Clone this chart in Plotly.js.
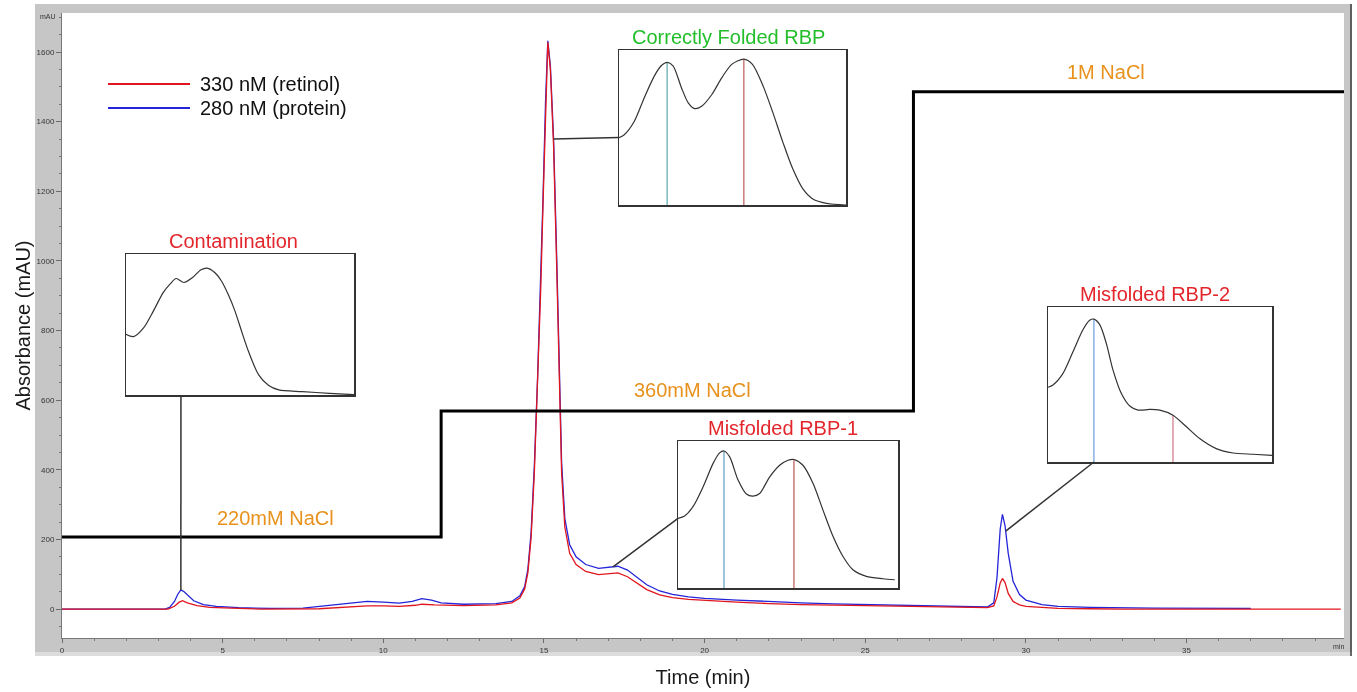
<!DOCTYPE html>
<html><head><meta charset="utf-8">
<script src="https://cdn.plot.ly/plotly-3.0.1.min.js"></script>
<style>
html,body{margin:0;padding:0;background:#fff}
#wrap{position:relative;width:1357px;height:692px;background:#fff}
#chart{position:absolute;left:0;top:0;width:1357px;height:692px}
.band{position:absolute;background:#c6c6c6;mix-blend-mode:multiply;pointer-events:none;z-index:5}
</style>
</head><body><div id="wrap"><div id="chart"></div>
<div class="band" style="left:35px;top:4px;width:1317px;height:9px"></div>
<div class="band" style="left:35px;top:13px;width:27px;height:625px"></div>
<div class="band" style="left:1344px;top:13px;width:8px;height:625px"></div>
<div class="band" style="left:35px;top:638px;width:1317px;height:14px"></div>
<div class="band" style="left:35px;top:652px;width:1317px;height:4px;background:#dcdcdc"></div>
<div class="band" style="left:1350px;top:4px;width:2px;height:652px;background:#7a7a7a"></div>
</div>
<script>
// ---------------- DATA ----------------
// 280 nm trace (protein)
const blueTime = [0, 3.2, 3.35, 3.5, 3.6, 3.7, 3.8, 3.95, 4.1, 4.4, 4.8, 5.5, 6.5, 7.5, 8.0, 8.5, 9.0, 9.5, 10.0, 10.5, 10.9, 11.2, 11.5, 11.8, 12.5, 13.0, 13.5, 14.0, 14.25, 14.4, 14.5, 14.6, 14.7, 14.8, 14.9, 14.97, 15.05, 15.12, 15.2, 15.3, 15.4, 15.47, 15.55, 15.65, 15.8, 16.0, 16.3, 16.7, 17.0, 17.3, 17.6, 17.9, 18.2, 18.6, 19.0, 19.5, 20, 21, 22, 23, 24, 25, 26, 27, 28, 28.8, 29.0, 29.1, 29.2, 29.27, 29.35, 29.45, 29.6, 29.8, 30.0, 30.5, 31, 32, 34, 37];
const blueValue = [0, 0, 5, 22, 42, 55, 50, 36, 24, 13, 8, 4, 2, 3, 8, 14, 19, 22, 20, 17, 22, 30, 26, 18, 14, 14, 16, 22, 38, 65, 115, 220, 410, 660, 940, 1180, 1460, 1632, 1560, 1350, 1000, 720, 420, 260, 185, 150, 128, 117, 120, 123, 112, 92, 70, 52, 42, 35, 31, 26, 21, 18, 15, 13, 11, 9, 7, 6, 18, 90, 230, 272, 240, 160, 80, 42, 26, 13, 8, 5, 3, 2];
// 330 nm trace (retinol)
const redTime = [0, 3.3, 3.5, 3.65, 3.75, 3.9, 4.2, 4.6, 5.5, 6.2, 8.0, 8.5, 9.0, 9.5, 10.0, 10.5, 11.0, 11.2, 11.6, 12.5, 13.5, 14.0, 14.25, 14.4, 14.5, 14.6, 14.7, 14.8, 14.9, 14.97, 15.05, 15.12, 15.2, 15.3, 15.4, 15.47, 15.55, 15.65, 15.8, 16.0, 16.3, 16.7, 17.0, 17.3, 17.6, 17.9, 18.2, 18.6, 19.0, 19.5, 20, 21, 22, 23, 25, 27, 28.8, 29.0, 29.1, 29.2, 29.27, 29.35, 29.45, 29.6, 29.8, 30.0, 30.5, 31, 32, 33, 39.8];
const redValue = [0, 0, 8, 20, 24, 18, 10, 5, 2, 0, 1, 4, 7, 9, 9, 8, 11, 14, 12, 10, 12, 18, 32, 58, 105, 205, 390, 630, 920, 1160, 1450, 1628, 1550, 1330, 970, 690, 390, 235, 160, 128, 108, 99, 102, 104, 93, 74, 56, 41, 33, 28, 25, 20, 16, 13, 10, 7, 4, 9, 35, 75, 88, 76, 45, 22, 12, 8, 4, 2, 1, 0, 0];
// NaCl step gradient
const saltTime = [0, 11.8, 26.5, 39.9];
const saltValue = [207, 569, 1486, 1486];
const saltLabels = ['220mM NaCl', '360mM NaCl', '1M NaCl'];
const seriesNames = ['330 nM (retinol)', '280 nM (protein)'];
// tick values
const xTickVals = [0, 5, 10, 15, 20, 25, 30, 35];
const yTickVals = [0, 200, 400, 600, 800, 1000, 1200, 1400, 1600];
// inset zoom profiles (normalised within each box)
const insetTitles = ['Contamination', 'Correctly Folded RBP', 'Misfolded RBP-1', 'Misfolded RBP-2'];
const contamU = [0, 0.033, 0.077, 0.12, 0.163, 0.193, 0.22, 0.254, 0.292, 0.329, 0.356, 0.389, 0.418, 0.448, 0.478, 0.507, 0.537, 0.582, 0.626, 0.67, 0.774, 0.893, 1.0];
const contamV = [0.43, 0.414, 0.476, 0.595, 0.726, 0.786, 0.826, 0.798, 0.833, 0.888, 0.9, 0.869, 0.81, 0.714, 0.595, 0.452, 0.31, 0.143, 0.067, 0.036, 0.024, 0.012, 0.002];
const foldedU = [0, 0.022, 0.067, 0.111, 0.156, 0.186, 0.212, 0.238, 0.275, 0.305, 0.334, 0.364, 0.409, 0.453, 0.498, 0.55, 0.587, 0.632, 0.676, 0.721, 0.765, 0.81, 0.854, 0.914, 1.0];
const foldedV = [0.435, 0.452, 0.539, 0.691, 0.833, 0.898, 0.92, 0.898, 0.757, 0.659, 0.622, 0.637, 0.713, 0.822, 0.909, 0.941, 0.909, 0.778, 0.604, 0.409, 0.235, 0.104, 0.039, 0.011, 0];
const misf1U = [0, 0.03, 0.068, 0.114, 0.159, 0.189, 0.209, 0.235, 0.273, 0.311, 0.341, 0.371, 0.417, 0.462, 0.5, 0.527, 0.568, 0.614, 0.659, 0.705, 0.75, 0.795, 0.856, 0.932, 0.985];
const misf1V = [0.474, 0.49, 0.553, 0.688, 0.846, 0.919, 0.932, 0.892, 0.734, 0.639, 0.625, 0.643, 0.756, 0.835, 0.869, 0.874, 0.835, 0.711, 0.53, 0.35, 0.214, 0.124, 0.079, 0.063, 0.056];
const misf2U = [0, 0.022, 0.067, 0.112, 0.156, 0.186, 0.205, 0.231, 0.26, 0.29, 0.327, 0.365, 0.402, 0.454, 0.499, 0.558, 0.618, 0.677, 0.751, 0.826, 0.915, 1.0];
const misf2V = [0.482, 0.497, 0.572, 0.713, 0.853, 0.914, 0.922, 0.886, 0.767, 0.594, 0.443, 0.361, 0.335, 0.339, 0.335, 0.302, 0.227, 0.151, 0.086, 0.058, 0.05, 0.043];
const foldedMarks = [0.212, 0.55];
const misf1Marks = [0.209, 0.527];
const misf2Marks = [0.205, 0.558];
// times at which callout lines leave the main trace
const calloutTimes = [3.7, 15.3, 17.15, 29.37];

// ---------------- LAYOUT HELPERS ----------------
const W = 1357, H = 692;
const M = {l: 62, r: 13, t: 13, b: 54};
const PW = W - M.l - M.r, PH = H - M.t - M.b;
const X_RANGE = [0, 39.9], Y_RANGE = [-83, 1712];
const px = x => (x - M.l) / PW;
const py = y => (H - M.b - y) / PH;
const dataX = f => X_RANGE[0] + f * (X_RANGE[1] - X_RANGE[0]);
const dataY = f => Y_RANGE[0] + f * (Y_RANGE[1] - Y_RANGE[0]);
function interp(xs, ys, x) {
  for (let i = 1; i < xs.length; i++) {
    if (x <= xs[i]) { const t = (x - xs[i-1]) / (xs[i] - xs[i-1]); return ys[i-1] + t * (ys[i] - ys[i-1]); }
  }
  return ys[ys.length - 1];
}
const FONT = 'Arial, "Liberation Sans", sans-serif';
const RED_T = '#e3262c', GREEN_T = '#22bf2a', ORANGE_T = '#e8911c';
function label(x, y, text, size, color, xanchor) {
  return {xref: 'paper', yref: 'paper', x: px(x), y: py(y), text: text, showarrow: false,
    xanchor: xanchor || 'center', yanchor: 'middle', font: {size: size, color: color, family: FONT}};
}

const insets = [
  {title: insetTitles[0], color: RED_T, box: [126, 354, 254, 395], tx: 233, u: contamU, v: contamV, marks: [], markColors: []},
  {title: insetTitles[1], color: GREEN_T, box: [619, 846, 50, 205], tx: 728, u: foldedU, v: foldedV, marks: foldedMarks, markColors: ['#5aa7b4', '#c4585a']},
  {title: insetTitles[2], color: RED_T, box: [678, 898, 441, 588], tx: 783, u: misf1U, v: misf1V, marks: misf1Marks, markColors: ['#5a9fc0', '#b8554f']},
  {title: insetTitles[3], color: RED_T, box: [1048, 1272, 307, 462], tx: 1155, u: misf2U, v: misf2V, marks: misf2Marks, markColors: ['#6b9be0', '#d07585']}
];

const traces = [
  {x: blueTime, y: blueValue, type: 'scatter', mode: 'lines', name: seriesNames[1], line: {color: '#2424d8', width: 1.3}, xaxis: 'x', yaxis: 'y'},
  {x: redTime, y: redValue, type: 'scatter', mode: 'lines', name: seriesNames[0], line: {color: '#e0161e', width: 1.3}, xaxis: 'x', yaxis: 'y'},
  {x: saltTime, y: saltValue, type: 'scatter', mode: 'lines', name: 'NaCl', line: {color: '#000', width: 3, shape: 'hv'}, xaxis: 'x', yaxis: 'y'}
];

const layout = {
  width: W, height: H, margin: M,
  paper_bgcolor: '#ffffff', plot_bgcolor: '#ffffff',
  showlegend: false,
  font: {family: FONT, color: '#222'},
  xaxis: {
    range: X_RANGE, domain: [0, 1], anchor: 'y',
    tickvals: xTickVals, ticks: 'outside', ticklen: 4, tickcolor: '#8a8a8a',
    tickfont: {size: 8, color: '#444'},
    minor: {dtick: 1, ticks: 'outside', ticklen: 2, tickcolor: '#9a9a9a'},
    showline: true, linecolor: '#9a9a9a', linewidth: 1,
    showgrid: false, zeroline: false, fixedrange: true,
    title: {text: 'Time (min)', font: {size: 20, color: '#1a1a1a', family: FONT}, standoff: 16}
  },
  yaxis: {
    range: Y_RANGE, domain: [0, 1], anchor: 'x',
    tickvals: yTickVals, ticks: 'outside', ticklen: 5, tickcolor: '#8a8a8a',
    tickfont: {size: 8, color: '#444'},
    minor: {dtick: 50, ticks: 'outside', ticklen: 2, tickcolor: '#9a9a9a'},
    showline: true, linecolor: '#9a9a9a', linewidth: 1,
    showgrid: false, zeroline: false, fixedrange: true,
    title: {text: 'Absorbance (mAU)', font: {size: 20, color: '#1a1a1a', family: FONT}, standoff: 0}
  },
  shapes: [
    {type: 'line', xref: 'paper', yref: 'paper', x0: px(108), x1: px(190), y0: py(84), y1: py(84), line: {color: '#e0161e', width: 2}},
    {type: 'line', xref: 'paper', yref: 'paper', x0: px(108), x1: px(190), y0: py(108), y1: py(108), line: {color: '#2424d8', width: 2}}
  ],
  annotations: [
    label(198, 84, seriesNames[0], 20, '#111', 'left'),
    label(198, 108, seriesNames[1], 20, '#111', 'left'),
    label(275, 518, saltLabels[0], 20, ORANGE_T),
    label(692, 390, saltLabels[1], 20, ORANGE_T),
    label(1106, 72, saltLabels[2], 20, ORANGE_T),
    label(48, 17, 'mAU', 7, '#444'),
    label(1338, 646, 'min', 7, '#444')
  ]
};

insets.forEach((ins, i) => {
  const n = i + 2;
  const [bx0, bx1, by0, by1] = ins.box;
  const xd = [px(bx0), px(bx1)], yd = [py(by1), py(by0)];
  const common = {range: [0, 1], showline: true, mirror: true, linecolor: '#333', linewidth: 1.5,
    showticklabels: false, ticks: '', showgrid: false, zeroline: false, fixedrange: true};
  layout['xaxis' + n] = Object.assign({domain: xd, anchor: 'y' + n}, common);
  layout['yaxis' + n] = Object.assign({domain: yd, anchor: 'x' + n}, common);
  ins.marks.forEach((m, k) => {
    traces.push({x: [m, m], y: [0, interp(ins.u, ins.v, m)], type: 'scatter', mode: 'lines',
      line: {color: ins.markColors[k], width: 1.2}, xaxis: 'x' + n, yaxis: 'y' + n});
  });
  traces.push({x: ins.u, y: ins.v, type: 'scatter', mode: 'lines', name: ins.title,
    line: {color: '#333', width: 1.2, shape: 'spline', smoothing: 0.8}, xaxis: 'x' + n, yaxis: 'y' + n});
  layout.annotations.push(label(ins.tx, by0 - 13, ins.title, 20, ins.color));
  ins.xd = xd; ins.yd = yd;
});

const ends = [
  [dataX(insets[0].xd[0] + (insets[0].xd[1]-insets[0].xd[0]) * 0.241), dataY(insets[0].yd[0])],
  [dataX(insets[1].xd[0]), dataY(insets[1].yd[0] + foldedV[0] * (insets[1].yd[1]-insets[1].yd[0]))],
  [dataX(insets[2].xd[0]), dataY(insets[2].yd[0] + misf1V[0] * (insets[2].yd[1]-insets[2].yd[0]))],
  [dataX(insets[3].xd[0] + misf2Marks[0] * (insets[3].xd[1]-insets[3].xd[0])), dataY(insets[3].yd[0])]
];
calloutTimes.forEach((t, i) => {
  layout.shapes.push({type: 'line', xref: 'x', yref: 'y', x0: t, y0: interp(blueTime, blueValue, t),
    x1: ends[i][0], y1: ends[i][1], line: {color: '#333', width: 1.5}});
});

Plotly.newPlot('chart', traces, layout, {displayModeBar: false, staticPlot: true});
</script>
</body></html>
